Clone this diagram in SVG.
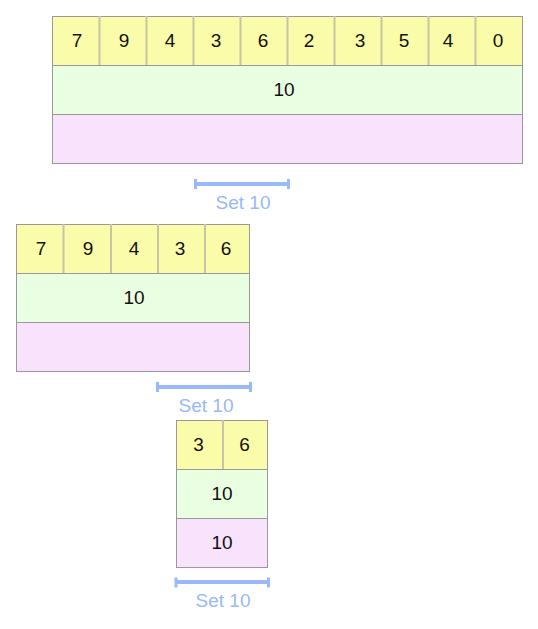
<svg xmlns="http://www.w3.org/2000/svg" width="538" height="629" viewBox="0 0 538 629">
<style>
.y{fill:#fbfca9;stroke:#999;stroke-width:1}
.g{fill:#eaffe1;stroke:#999;stroke-width:1}
.p{fill:#f9e2fc;stroke:#999;stroke-width:1}
.d{stroke:#c6c6a6;stroke-width:2}
.t{font-family:"Liberation Sans",Arial,sans-serif;font-size:19px;fill:#111;text-anchor:middle}
.s{font-family:"Liberation Sans",Arial,sans-serif;font-size:19px;fill:#99b9f5;text-anchor:middle}
.b{stroke:#99b9fb;stroke-width:4;fill:none}
.c{fill:#99b9fb}
</style>
<g id="block1">
<rect class="y" x="52.5" y="16.5" width="470" height="49"/>
<rect class="g" x="52.5" y="65.5" width="470" height="49"/>
<rect class="p" x="52.5" y="114.5" width="470" height="49"/>
<path class="d" d="M99.5 16v49M146.5 16v49M193.5 16v49M240.5 16v49M287.5 16v49M334.5 16v49M381.5 16v49M428.5 16v49M475.5 16v49"/>
<text class="t" x="77" y="47">7</text>
<text class="t" x="124" y="47">9</text>
<text class="t" x="170" y="47">4</text>
<text class="t" x="216" y="47">3</text>
<text class="t" x="263" y="47">6</text>
<text class="t" x="309" y="47">2</text>
<text class="t" x="360" y="47">3</text>
<text class="t" x="404" y="47">5</text>
<text class="t" x="448" y="47">4</text>
<text class="t" x="498" y="47">0</text>
<text class="t" x="284" y="96">10</text>
</g>
<g id="block2">
<rect class="y" x="16.5" y="224.5" width="233" height="49"/>
<rect class="g" x="16.5" y="273.5" width="233" height="49"/>
<rect class="p" x="16.5" y="322.5" width="233" height="49"/>
<path class="d" d="M63.5 224v49M111 224v49M158 224v49M205 224v49"/>
<text class="t" x="41" y="255">7</text>
<text class="t" x="88" y="255">9</text>
<text class="t" x="134" y="255">4</text>
<text class="t" x="180" y="255">3</text>
<text class="t" x="226" y="255">6</text>
<text class="t" x="134" y="304">10</text>
</g>
<g id="block3">
<rect class="y" x="176.5" y="420.5" width="91" height="49"/>
<rect class="g" x="176.5" y="469.5" width="91" height="49"/>
<rect class="p" x="176.5" y="518.5" width="91" height="49"/>
<path class="d" d="M223 420v49"/>
<text class="t" x="198.5" y="451">3</text>
<text class="t" x="244.5" y="451">6</text>
<text class="t" x="222" y="500">10</text>
<text class="t" x="222" y="549">10</text>
</g>
<g id="connectors">
<g id="set1">
<path class="b" d="M196 184H288"/>
<rect class="c" x="194" y="179" width="3" height="10"/>
<rect class="c" x="287" y="179" width="3" height="10"/>
<text class="s" x="243" y="209">Set 10</text>
</g>
<g id="set2">
<path class="b" d="M158 387H250"/>
<rect class="c" x="156" y="382" width="3" height="10"/>
<rect class="c" x="249" y="382" width="3" height="10"/>
<text class="s" x="206" y="412">Set 10</text>
</g>
<g id="set3">
<path class="b" d="M176 582H268"/>
<rect class="c" x="174.5" y="577.5" width="3" height="10"/>
<rect class="c" x="267" y="577.5" width="3" height="10"/>
<text class="s" x="223" y="607">Set 10</text>
</g>
</g>
</svg>
